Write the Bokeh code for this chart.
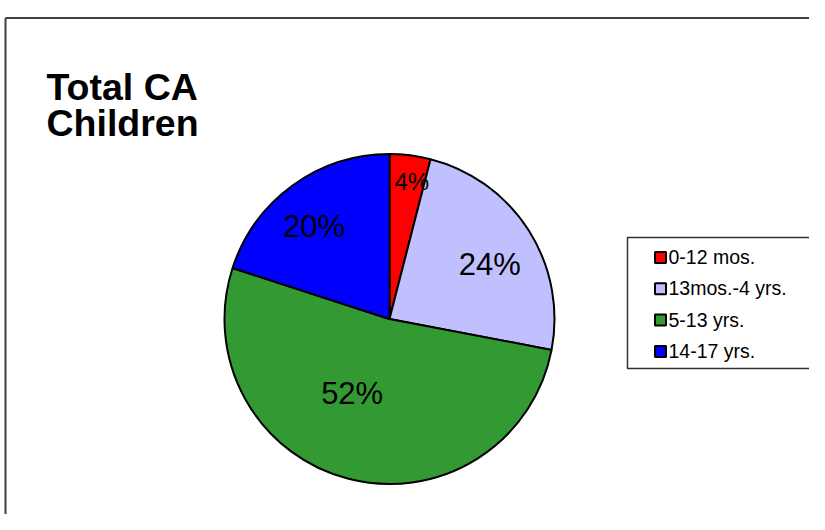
import math
from bokeh.plotting import figure
from bokeh.models import Range1d, ColumnDataSource
from bokeh.core.properties import value
from bokeh.embed import file_html
from bokeh.resources import INLINE

# ---- data ----
categories = ["0-12 mos.", "13mos.-4 yrs.", "5-13 yrs.", "14-17 yrs."]
shares = [4, 24, 52, 20]
pct_labels = ["4%", "24%", "52%", "20%"]
colors = ["#FF0000", "#C0C0FF", "#339933", "#0000FF"]
title_lines = ["Total CA", "Children"]

# ---- layout / styles ----
W, H = 809, 514
FONT = "Liberation Sans"
BASE_FIX = 0.38                        # observed baseline offset (em)
label_r = [139, 114, 84, 119]          # radial distance of each percentage label
label_turn = [2, 4, 12, -3.4]          # small angular nudge (deg, clockwise)
label_size = [24, 31, 31, 31]
TITLE_SIZE = 37.5
LEG_SIZE = 19.5


def sx(x):  # picture pixel -> data x
    return x


def sy(y):  # picture pixel -> data y
    return H - y


def base(y, size):  # picture baseline -> data y for a text glyph
    return sy(y - BASE_FIX * size)


p = figure(width=W, height=H, output_backend="svg", toolbar_location=None,
           x_range=Range1d(0, W), y_range=Range1d(0, H), min_border=0,
           outline_line_color=None, background_fill_color="white",
           border_fill_color="white")
p.axis.visible = False
p.grid.visible = False

# outer chart frame (continues past the window on right/bottom)
p.segment(x0=[sx(5)], y0=[sy(17.5)], x1=[sx(900)], y1=[sy(17.5)],
          line_color="#404040", line_width=2)
p.segment(x0=[sx(5)], y0=[sy(17.5)], x1=[sx(5)], y1=[sy(900)],
          line_color="#404040", line_width=2)

# ---- pie ----
cx, cy, R = sx(389), sy(318.5), 165
total = float(sum(shares))
starts, ends, lx, ly = [], [], [], []
cum = 0.0
for i, s in enumerate(shares):
    starts.append(math.pi / 2 - 2 * math.pi * cum / total)
    ends.append(math.pi / 2 - 2 * math.pi * (cum + s) / total)
    theta = math.radians(360.0 * (cum + s / 2.0) / total + label_turn[i])
    px = cx + label_r[i] * math.sin(theta)
    py = cy + label_r[i] * math.cos(theta)          # cap-centre, data coords
    lx.append(px)
    ly.append(py - 0.358 * label_size[i] + BASE_FIX * label_size[i])
    cum += s

src = ColumnDataSource(dict(start=starts, end=ends, color=colors))
p.wedge(x=cx, y=cy, radius=R, radius_units="screen", start_angle="start",
        end_angle="end", direction="clock", fill_color="color",
        line_color="black", line_width=2, source=src)

lab_src = ColumnDataSource(dict(x=lx, y=ly, text=pct_labels,
                                size=[f"{s}px" for s in label_size]))
p.text(x="x", y="y", text="text", source=lab_src, text_font=value(FONT),
       text_font_size="size", text_align="center", text_baseline="alphabetic",
       text_color="black")

# ---- title ----
p.text(x=[sx(46), sx(46)], y=[base(101, TITLE_SIZE), base(137, TITLE_SIZE)],
       text=title_lines, text_font=value(FONT), text_font_style="bold",
       text_font_size=f"{TITLE_SIZE}px", text_align="left",
       text_baseline="alphabetic", text_color="black")

# ---- legend ----
p.quad(left=[sx(627)], right=[sx(813)], top=[sy(237)], bottom=[sy(368)],
       fill_color="white", line_color="#333333", line_width=1.5)
rows = [257 + i * 31.3 for i in range(len(categories))]
p.scatter(x=[sx(660)] * len(rows), y=[sy(r) for r in rows], marker="square",
          size=11, fill_color=colors, line_color="black", line_width=2)
p.text(x=[sx(668)] * len(rows), y=[base(r + 7.0, LEG_SIZE) for r in rows],
       text=categories, text_font=value(FONT), text_font_size=f"{LEG_SIZE}px",
       text_align="left", text_baseline="alphabetic", text_color="black")

open("out.html", "w").write(file_html(p, INLINE))
